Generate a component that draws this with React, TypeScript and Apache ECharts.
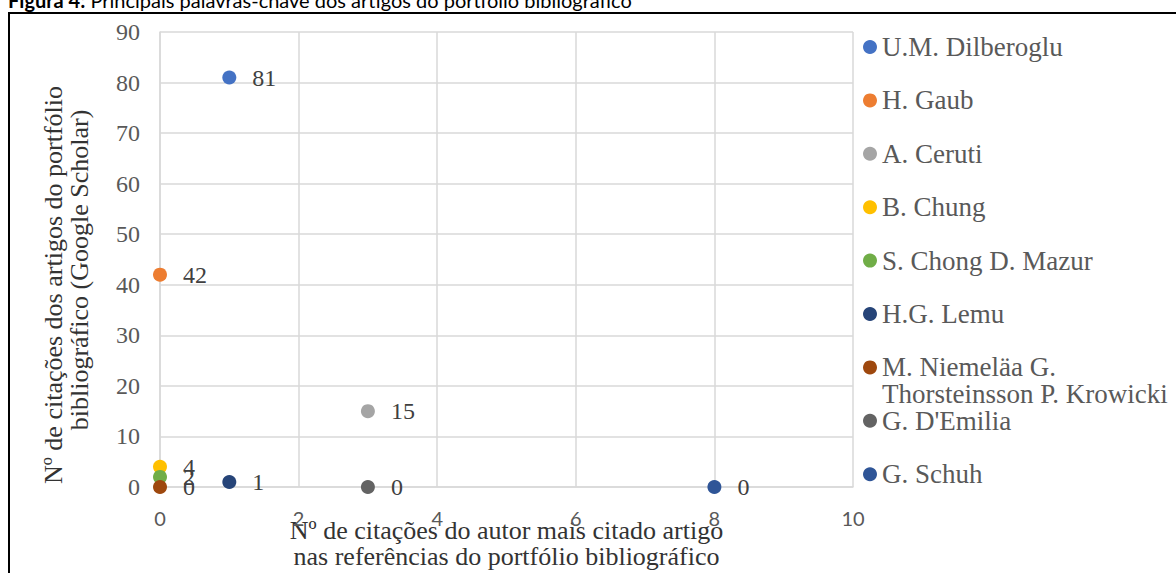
import React, { useEffect, useRef } from "react";
import * as echarts from "echarts";

const seriesNames = [
  "U.M. Dilberoglu",
  "H. Gaub",
  "A. Ceruti",
  "B. Chung",
  "S. Chong D. Mazur",
  "H.G. Lemu",
  "M. Niemeläa G. Thorsteinsson P. Krowicki",
  "G. D'Emilia",
  "G. Schuh",
];
const legendLabels = [
  "U.M. Dilberoglu",
  "H. Gaub",
  "A. Ceruti",
  "B. Chung",
  "S. Chong D. Mazur",
  "H.G. Lemu",
  "M. Niemeläa G.\nThorsteinsson P. Krowicki",
  "G. D'Emilia",
  "G. Schuh",
];
// x: citations of the most cited author in the portfolio references
const authorCitations = [1, 0, 3, 0, 0, 1, 0, 3, 8];
// y: citations of the portfolio articles (Google Scholar)
const articleCitations = [81, 42, 15, 4, 2, 1, 0, 0, 0];
const seriesColors = [
  "#4472C4",
  "#ED7D31",
  "#A5A5A5",
  "#FFC000",
  "#70AD47",
  "#264478",
  "#9E480E",
  "#636363",
  "#2F5597",
];

const captionBold = "Figura 4:";
const captionText = " Principais palavras-chave dos artigos do portfólio bibliográfico";
const xTitle = "Nº de citações do autor mais citado artigo\nnas referências do portfólio bibliográfico";
const yTitle1 = "Nº de citações dos artigos do portfólio";
const yTitle2 = "bibliográfico (Google Scholar)";

const SERIF = "'Liberation Serif', 'Times New Roman', serif";
const SANS = "Lato, 'Noto Sans', sans-serif";

export default function App() {
  const ref = useRef<HTMLDivElement>(null);
  useEffect(() => {
    if (!ref.current) return;
    const chart = echarts.init(ref.current, undefined, { renderer: "svg" });

    const legends = seriesNames.map((name, i) => {
      const label = legendLabels[i];
      const multi = label.includes("\n");
      const center = 47 + i * 53.4;
      return {
        data: [name],
        orient: "vertical",
        left: 863,
        top: multi ? center - 40.5 : center - 13.5,
        padding: 0,
        itemWidth: 14,
        itemHeight: 14,
        itemGap: 0,
        icon: "circle",
        formatter: () => (multi ? "\n" + label : label),
        textStyle: {
          fontFamily: SERIF,
          fontSize: 27,
          lineHeight: 27,
          color: "#595959",
        },
      };
    });

    const series = seriesNames.map((name, i) => ({
      type: "scatter",
      name,
      data: [[authorCitations[i], articleCitations[i]]],
      symbol: "circle",
      symbolSize: 14,
      itemStyle: { color: seriesColors[i], opacity: 1 },
      label: {
        show: true,
        position: "right",
        distance: 16,
        formatter: (p: any) => String(p.value[1]),
        fontFamily: SERIF,
        fontSize: 24,
        color: "#404040",
      },
      emphasis: { disabled: true },
    }));

    chart.setOption({
      animation: false,
      backgroundColor: "#ffffff",
      grid: {
        left: 160,
        right: 323,
        top: 32,
        bottom: 86,
        containLabel: false,
        outerBoundsMode: "none",
      },
      xAxis: {
        type: "value",
        min: 0,
        max: 10,
        interval: 2,
        axisLine: { show: true, onZero: false, lineStyle: { color: "#D9D9D9", width: 1.5 } },
        axisTick: { show: false },
        splitLine: { show: true, lineStyle: { color: "#D9D9D9", width: 1.5 } },
        axisLabel: { margin: 21, fontFamily: SANS, fontSize: 20, color: "#595959" },
        name: xTitle,
        nameLocation: "middle",
        nameGap: 30,
        nameMoveOverlap: false,
        nameTextStyle: { fontFamily: SERIF, fontSize: 26, lineHeight: 26, color: "#333333" },
      },
      yAxis: {
        type: "value",
        min: 0,
        max: 90,
        interval: 10,
        axisLine: { show: true, lineStyle: { color: "#D9D9D9", width: 1.5 } },
        axisTick: { show: false },
        splitLine: { show: true, lineStyle: { color: "#D9D9D9", width: 1.5 } },
        axisLabel: { margin: 20, fontFamily: SERIF, fontSize: 24, color: "#595959" },
        name: "{a|" + yTitle1 + "}\n{b|" + yTitle2 + "}",
        nameLocation: "middle",
        nameRotate: 90,
        nameGap: 68,
        nameMoveOverlap: false,
        nameTextStyle: {
          fontFamily: SERIF,
          fontSize: 26,
          lineHeight: 26,
          color: "#333333",
          rich: {
            a: { fontFamily: SERIF, fontSize: 26, lineHeight: 26, color: "#333333", padding: [0, 51, 0, 0] },
            b: { fontFamily: SERIF, fontSize: 26, lineHeight: 26, color: "#333333", padding: [0, 21, 0, 0] },
          },
        },
      },
      legend: legends,
      series,
      graphic: [
        {
          type: "rect",
          shape: { x: 9, y: 13, width: 1300, height: 700 },
          style: { fill: "none", stroke: "#000000", lineWidth: 2 },
          silent: true,
        },
        {
          type: "text",
          x: 8,
          y: 10,
          style: {
            text: "{b|" + captionBold + "}{n|" + captionText + "}",
            verticalAlign: "bottom",
            rich: {
              b: { fontFamily: SANS, fontSize: 20, fontWeight: "bold", fill: "#000000" },
              n: { fontFamily: SANS, fontSize: 20, fill: "#000000" },
            },
          },
          silent: true,
        },
      ],
    });
    return () => chart.dispose();
  }, []);
  return (
    <div
      ref={ref}
      style={{ position: "absolute", left: 0, top: 0, width: 1176, height: 573 }}
    />
  );
}
